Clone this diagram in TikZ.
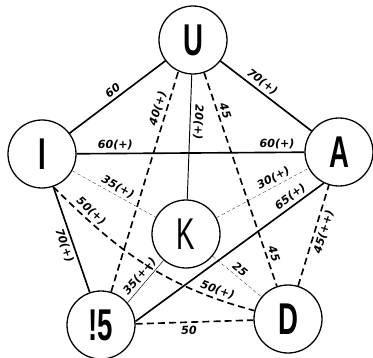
\documentclass[tikz,border=0pt]{standalone}
\usepackage{fontspec}
\usepackage{amsmath}
\newfontfamily\letterfont[FakeStretch=0.62]{Liberation Sans}
\newfontfamily\labelfont{DejaVu Sans}

\begin{document}
\begin{tikzpicture}[x=0.03cm, y=0.03cm,
	vnode/.style={circle, draw, line width=1.1pt, minimum size=2.04cm, 
	inner sep=0pt, font=\letterfont\bfseries\fontsize{38}{38}\selectfont},
	slabel/.style={font=\labelfont\bfseries\itshape\fontsize{9.5}{10}\selectfont, 
	sloped, inner sep=2.5pt},
	sline/.style={line width=1.4pt},
	dline/.style={line width=1.4pt, dash pattern=on 6pt off 3.5pt},
	fline/.style={very thin, dash pattern=on 3pt off 2pt}
	]
	\useasboundingbox (0,0) rectangle (373,357);
	
	\node[vnode] (U) at (193,317) {U};
	\node[vnode] (I) at (42,203) {I};
	\node[vnode] (A) at (339,205) {A};
	\node[vnode, font=\letterfont\fontsize{38}{38}\selectfont] (K) at (186,123) {K};
	\node[vnode] (S) at (101,32) {!5};
	\node[vnode] (D) at (288,38) {D};
	
	% outer ring
	\draw[sline] (I) -- node[slabel, above] {60} (U);
	\draw[sline] (U) -- node[slabel, above, pos=.4] {70(+)} (A);
	\draw[sline] (I) -- node[slabel, below, pos=.53] {70(+)} (S);
	\draw[dline] (D) -- node[slabel, below, pos=.56] {45(++)} (A);
	\draw[dline] (S) -- node[slabel, below, pos=.45] {50} (D);
	
	% long chords
	\draw[sline] (I) -- node[slabel, above, pos=.17] {60(+)} 
	node[slabel, above, pos=.88] {60(+)} (A);
	\draw[dline] (S) -- node[slabel, above, pos=.82] {40(+)} (U.245);
	\draw[dline] (U) -- node[slabel, above, pos=.19] {45} 
	node[slabel, above, pos=.86] {45} (D);
	\draw[sline] (S.6) -- node[slabel, above, pos=.85] {65(+)} (A.244);
	\draw[dline] 
	(I.-71) to[out=-45, in=165] node[slabel, above, pos=.17] {50(+)} 
	node[slabel, above, pos=.84] {50(+)} (D.166);
	
	% spokes to K
	\draw[line width=0.8pt] (U) -- node[slabel, above, pos=.38, allow upside down] {20(+)} (K);
	\draw[fline] (I) -- node[slabel, above, pos=.5] {35(+)} (K);
	\draw[fline] (K) -- node[slabel, above, pos=.66] {30(+)} (A);
	\draw[thin] (S.40) -- node[slabel, above, pos=.51] {35(++)} (K);
	\draw[fline] (K) -- node[slabel, above, pos=.47] {25} (D);
\end{tikzpicture}
\end{document}
